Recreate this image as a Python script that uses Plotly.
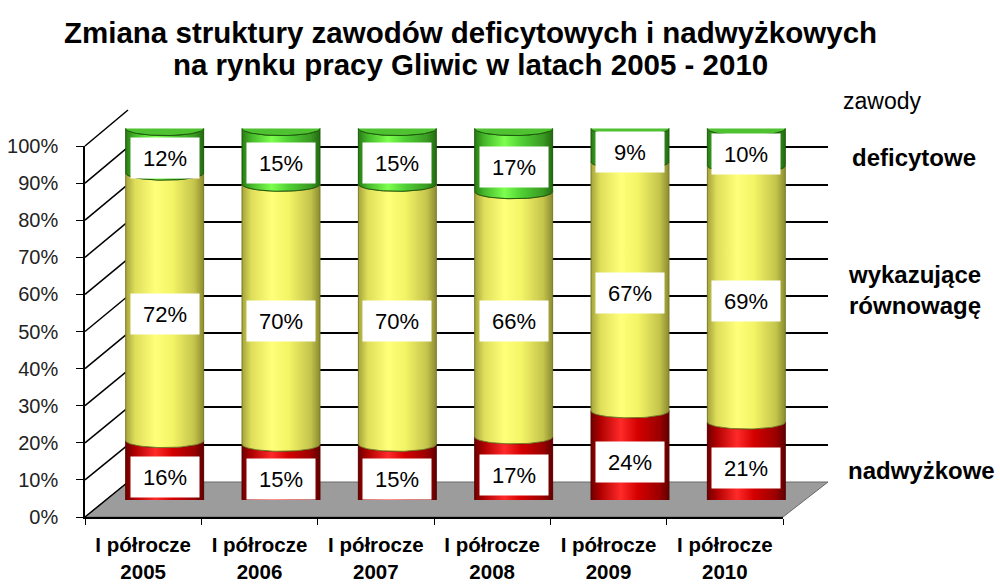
import numpy as np
import plotly.graph_objects as go

# ---------------- data ----------------
categories = ["I półrocze<br>2005", "I półrocze<br>2006", "I półrocze<br>2007",
              "I półrocze<br>2008", "I półrocze<br>2009", "I półrocze<br>2010"]
nadwyzkowe = [16, 15, 15, 17, 24, 21]
rownowaga = [72, 70, 70, 66, 67, 69]
deficytowe = [12, 15, 15, 17, 9, 10]
series_names = ["nadwyżkowe", "wykazujące<br>równowagę", "deficytowe"]
legend_title = "zawody"
y_ticks = [0, 10, 20, 30, 40, 50, 60, 70, 80, 90, 100]
y_tick_labels = [f"{v}%" for v in y_ticks]
title_lines = ["Zmiana struktury zawodów deficytowych i nadwyżkowych",
               "na rynku pracy Gliwic w latach 2005 - 2010"]

FONT = "Liberation Sans, Arial, sans-serif"
W, H = 1000, 587


def px(x):
    return x / W


def py(y):
    return 1 - y / H


# plot geometry (front plane, back wall, mid-depth plane for cylinders)
front_x = [px(85), px(783)]
front_y = [py(517), py(146)]
back_x = [px(128), px(828)]
back_y = [py(482), py(110)]
mid_x = [px(106.5), px(804.5)]
mid_y = [py(500), py(128.5)]

n = len(categories)
fig = go.Figure()

# invisible anchor traces for each subplot
fig.add_trace(go.Scatter(x=categories, y=[0] * n, mode="markers", marker=dict(opacity=0),
                         hoverinfo="skip", showlegend=False, xaxis="x", yaxis="y"))
fig.add_trace(go.Scatter(x=[0], y=[0], mode="markers", marker=dict(opacity=0),
                         hoverinfo="skip", showlegend=False, xaxis="x2", yaxis="y2"))

# cylinders
hw = 0.335           # half width in category units
ry = 1.9             # ellipse half-height in % units
t_low = np.linspace(np.pi, 2 * np.pi, 40)
t_full = np.linspace(0, 2 * np.pi, 80)

styles = [
    dict(scale=[[0, "#6e0000"], [0.12, "#b00000"], [0.38, "#ff2a2a"], [0.6, "#d40000"],
                [0.88, "#9a0000"], [1, "#600000"]], line="#5a0000"),
    dict(scale=[[0, "#a4a43c"], [0.12, "#dede5a"], [0.38, "#ffff7a"], [0.6, "#f4f466"],
                [0.88, "#c4c44c"], [1, "#8c8c30"]], line="#7a7a28"),
    dict(scale=[[0, "#2a7a14"], [0.12, "#45b82a"], [0.38, "#7cff4e"], [0.6, "#50d034"],
                [0.88, "#3a9a22"], [1, "#236a10"]], line="#1e5a0c"),
]
cap_color = "#4fc232"

for i in range(n):
    vals = [nadwyzkowe[i], rownowaga[i], deficytowe[i]]
    cum = np.concatenate([[0], np.cumsum(vals)])
    for k in range(3):
        yb, yt = cum[k], cum[k + 1]
        xs = np.concatenate([i + hw * np.cos(t_low), (i + hw * np.cos(t_low))[::-1], [i - hw]])
        ys = np.concatenate([yb + ry * np.sin(t_low), (yt + ry * np.sin(t_low))[::-1], [yb]])
        fig.add_trace(go.Scatter(
            x=xs, y=ys, mode="lines", fill="toself",
            fillgradient=dict(type="horizontal", colorscale=styles[k]["scale"]),
            line=dict(color=styles[k]["line"], width=1),
            hoverinfo="skip", showlegend=False, xaxis="x3", yaxis="y3"))
    fig.add_trace(go.Scatter(
        x=i + hw * np.cos(t_full), y=cum[-1] + ry * np.sin(t_full), mode="lines",
        fill="toself", fillcolor=cap_color, line=dict(color="#1e5a0c", width=1),
        hoverinfo="skip", showlegend=False, xaxis="x3", yaxis="y3"))

# value labels
annotations = []
for i in range(n):
    vals = [nadwyzkowe[i], rownowaga[i], deficytowe[i]]
    cum = np.concatenate([[0], np.cumsum(vals)])
    for k in range(3):
        annotations.append(dict(
            x=i, y=(cum[k] + cum[k + 1]) / 2, xref="x3", yref="y3", yshift=-7,
            text=f"{vals[k]}%", showarrow=False, bgcolor="white", width=66, height=38,
            valign="middle", font=dict(family=FONT, size=22, color="black")))

# titles
for j, (line, yy) in enumerate(zip(title_lines, [32, 65])):
    annotations.append(dict(x=px(470), y=py(yy), xref="paper", yref="paper", text=line,
                            showarrow=False, xanchor="center", yanchor="middle",
                            font=dict(family=FONT, size=29.5, color="black", weight="bold")))

# series names on the right
annotations.append(dict(x=px(841), y=py(101), xref="paper", yref="paper", text=legend_title,
                        showarrow=False, xanchor="left", yanchor="middle",
                        font=dict(family=FONT, size=23, color="black")))
for name, xx, yy in zip(series_names, [846, 846, 850], [470, 290, 157]):
    annotations.append(dict(x=px(xx), y=py(yy), xref="paper", yref="paper", text=name,
                            showarrow=False, xanchor="left", yanchor="middle", align="left",
                            font=dict(family=FONT, size=24, color="black", weight="bold")))

# floor and left wall diagonals
shapes = [dict(type="path", xref="paper", yref="paper", layer="below",
               path=(f"M {front_x[0]},{front_y[0]} L {front_x[1]},{front_y[0]} "
                     f"L {back_x[1]},{back_y[0]} L {back_x[0]},{back_y[0]} Z"),
               fillcolor="#9c9c9c", line=dict(color="#6a6a6a", width=1))]
for t in y_ticks:
    yf = front_y[0] + t / 100 * (front_y[1] - front_y[0])
    yb = back_y[0] + t / 100 * (back_y[1] - back_y[0])
    shapes.append(dict(type="line", xref="paper", yref="paper", layer="below",
                       x0=front_x[0], y0=yf, x1=back_x[0], y1=yb,
                       line=dict(color="black", width=1.5)))

fig.update_layout(
    width=W, height=H, margin=dict(l=0, r=0, t=0, b=0, autoexpand=False),
    paper_bgcolor="white", plot_bgcolor="rgba(0,0,0,0)", showlegend=False,
    font=dict(family=FONT, color="black"),
    xaxis=dict(domain=front_x, anchor="y", type="category", categoryorder="array",
               categoryarray=categories, range=[-0.5, n - 0.5], tickson="boundaries",
               ticks="outside", ticklen=6, tickcolor="black", showline=True,
               linecolor="black", linewidth=1.5, showgrid=False, zeroline=False,
               ticklabelstandoff=9, automargin=False,
               tickfont=dict(family=FONT, size=20.5, color="black", weight="bold")),
    yaxis=dict(domain=front_y, anchor="x", range=[0, 100], tickmode="array",
               tickvals=y_ticks, ticktext=y_tick_labels, ticks="outside", ticklen=7,
               tickcolor="black", showline=True, linecolor="black", linewidth=1.5,
               showgrid=False, zeroline=False, ticklabelstandoff=14, automargin=False,
               tickfont=dict(family=FONT, size=20, color="#222")),
    xaxis2=dict(domain=back_x, anchor="y2", range=[0, 1], visible=False, automargin=False),
    yaxis2=dict(domain=back_y, anchor="x2", range=[-0.05, 100.05], tickvals=y_ticks,
                showgrid=True, gridcolor="black", gridwidth=1.5, showticklabels=False,
                ticks="", showline=False, zeroline=False, automargin=False),
    xaxis3=dict(domain=mid_x, anchor="y3", range=[-0.5, n - 0.5], visible=False,
                automargin=False),
    yaxis3=dict(domain=mid_y, anchor="x3", range=[0, 100], visible=False, automargin=False),
    annotations=annotations, shapes=shapes,
)

fig.write_html("out.html", config={"displayModeBar": False},
               post_script="document.body.style.margin='0';"
                           "document.documentElement.style.overflow='hidden';")
